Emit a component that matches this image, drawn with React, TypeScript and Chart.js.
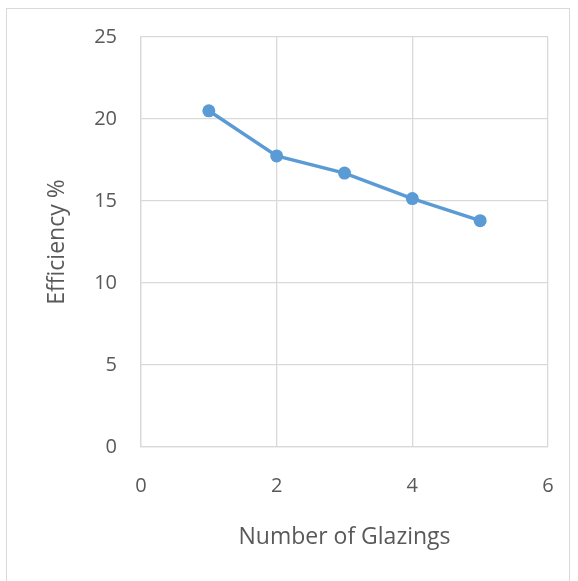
import React, { useEffect, useRef } from "react";
import { Chart, registerables } from "chart.js";

Chart.register(...registerables);

const glazings = [1, 2, 3, 4, 5];
const efficiency = [20.5, 17.75, 16.7, 15.15, 13.8];
const xTicks = [0, 2, 4, 6];
const yTicks = [0, 5, 10, 15, 20, 25];

const TEXT = "#595959";
const GRID = "#D9D9D9";
const BLUE = "#5B9BD5";
const FONT = "'Open Sans', sans-serif";

const borderPlugin = {
  id: "outerBorder",
  beforeDraw(chart: any) {
    const ctx = chart.ctx;
    ctx.save();
    ctx.fillStyle = "#ffffff";
    ctx.fillRect(0, 0, chart.width, chart.height);
    ctx.strokeStyle = GRID;
    ctx.lineWidth = 1;
    ctx.strokeRect(6.5, 8.5, 563, 620);
    ctx.restore();
  },
};

export default function App() {
  const ref = useRef<HTMLCanvasElement>(null);
  useEffect(() => {
    if (!ref.current) return;
    const chart = new Chart(ref.current, {
      type: "scatter",
      data: {
        datasets: [
          {
            data: glazings.map((x, i) => ({ x, y: efficiency[i] })),
            showLine: true,
            borderColor: BLUE,
            backgroundColor: BLUE,
            borderWidth: 3.5,
            pointRadius: 6.5,
            pointHoverRadius: 6.5,
            pointBorderWidth: 0,
          },
        ],
      },
      options: {
        animation: false,
        responsive: false,
        layout: { padding: { top: 37, right: 30, left: 0, bottom: 0 } },
        plugins: { legend: { display: false }, tooltip: { enabled: false } },
        scales: {
          x: {
            type: "linear",
            min: 0,
            max: 6,
            afterBuildTicks: (s: any) => {
              s.ticks = xTicks.map((v) => ({ value: v }));
            },
            afterFit: (s: any) => {
              s.height = 134;
              s.paddingLeft = 0;
              s.paddingRight = 0;
            },
            grid: { color: GRID, drawTicks: false, lineWidth: 1.3 },
            border: { color: GRID, width: 1.3 },
            ticks: { color: TEXT, font: { family: FONT, size: 20 }, padding: 27 },
            title: {
              display: true,
              text: "Number of Glazings",
              color: TEXT,
              font: { family: FONT, size: 23 },
              padding: { top: 30, bottom: 30 },
            },
          },
          y: {
            type: "linear",
            min: 0,
            max: 25,
            afterBuildTicks: (s: any) => {
              s.ticks = yTicks.map((v) => ({ value: v }));
            },
            afterFit: (s: any) => {
              s.width = 141;
              s.paddingTop = 0;
              s.paddingBottom = 0;
            },
            grid: { color: GRID, drawTicks: false, lineWidth: 1.3 },
            border: { color: GRID, width: 1.3 },
            ticks: { color: TEXT, font: { family: FONT, size: 20 }, padding: 24 },
            title: {
              display: true,
              text: "Efficiency %",
              color: TEXT,
              font: { family: FONT, size: 23 },
              padding: { top: 44, bottom: 44 },
            },
          },
        },
      },
      plugins: [borderPlugin],
    } as any);
    return () => chart.destroy();
  }, []);
  return (
    <div style={{ position: "fixed", left: 0, top: 0, width: 578, height: 581 }}>
      <canvas ref={ref} width={578} height={581} style={{ display: "block" }} />
    </div>
  );
}
